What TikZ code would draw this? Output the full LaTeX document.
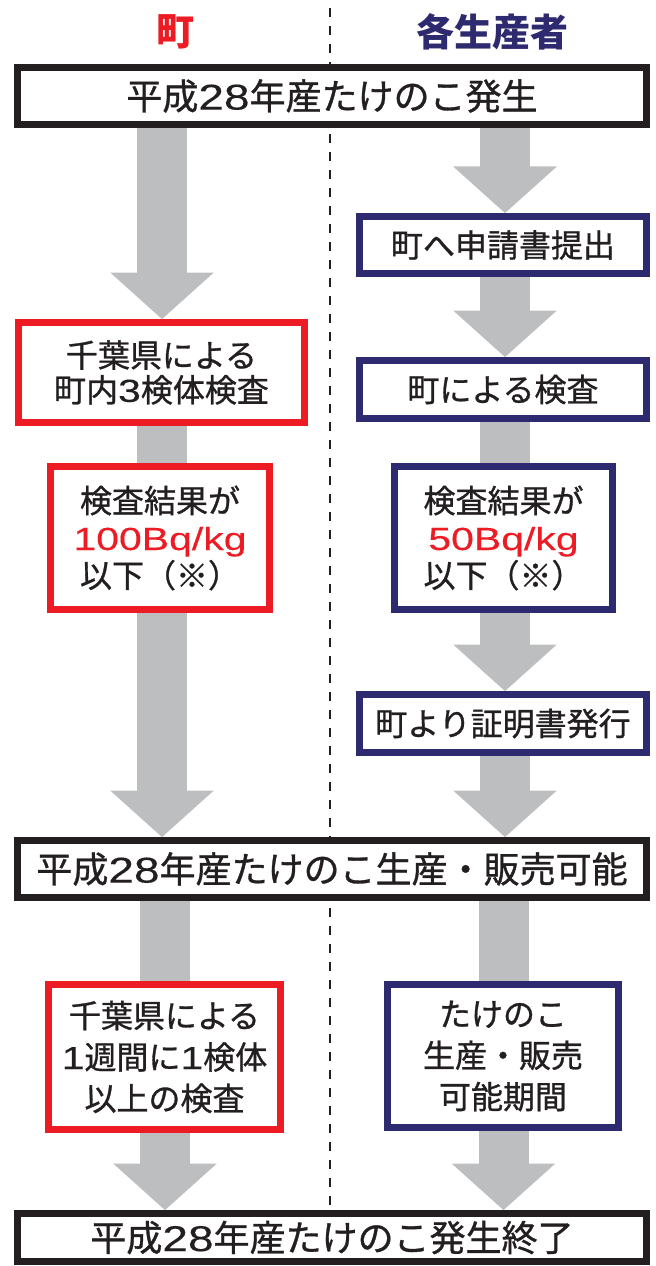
\documentclass[tikz,border=0pt]{standalone}
\usepackage{fontspec}
\setmainfont{Noto Sans CJK JP}[FakeBold=0.9, BoldFeatures={FakeBold=0}]
\newfontfamily\lat{Liberation Sans}[FakeStretch=1.28, FakeBold=0.15]
\usetikzlibrary{arrows.meta,backgrounds}
\definecolor{tred}{HTML}{ED1C24}
\definecolor{tnavy}{HTML}{2E2A6F}
\definecolor{tblack}{HTML}{231F20}
\definecolor{agray}{HTML}{BCBEC0}
\begin{document}
\begin{tikzpicture}[x=0.75pt,y=-0.75pt,
  hdr/.style={font=\bfseries\fontsize{28.5}{30}\selectfont, inner sep=0pt},
  box/.style={fill=white, line width=5pt, inner sep=0pt, align=center, text=tblack},
  bigbox/.style={box, draw=tblack, font=\fontsize{27}{30}\selectfont, minimum width=471.75pt},
  redbox/.style={box, draw=tred, font=\fontsize{24}{26}\selectfont},
  navybox/.style={box, draw=tnavy, font=\fontsize{24}{26}\selectfont},
  flow/.style={draw=agray, line width=37.5pt, -{Triangle[width=75.75pt,length=35pt]}},
  shaft/.style={draw=agray, line width=37.5pt},
  divider/.style={draw=tblack, line width=1.5pt, dash pattern=on 6.5pt off 7pt}]
\useasboundingbox (0,0) rectangle (656,1266);
% lanes
\coordinate (L1) at (162,0);
\coordinate (L2) at (165,0);
\coordinate (R1) at (505,0);
\coordinate (R2) at (503.5,0);
\coordinate (dTop) at (330,8);
\coordinate (dBot) at (330,1205);
% headers
\node[hdr, text=tred] (hL) at (175,32) {町};
\node[hdr, text=tnavy] (hR) at (492,32) {各生産者};
% wide boxes
\node[bigbox, minimum height=42.75pt] (top) at (332,96) {平成{\lat 28}年産たけのこ発生};
\node[bigbox, minimum height=42.75pt] (mid) at (332,869) {平成{\lat 28}年産たけのこ生産・販売可能};
\node[bigbox, minimum height=36pt] (bot) at (332,1237.5) {平成{\lat 28}年産たけのこ発生終了};
% left column
\node[redbox, minimum width=214.5pt, minimum height=75pt, font=\fontsize{24}{26}\selectfont] (lb1) at (161.5,372.5) {千葉県による\\町内{\lat 3}検体検査};
\node[redbox, minimum width=164.25pt, minimum height=107.25pt, font=\fontsize{24}{28}\selectfont] (lb2) at (160,538) {検査結果が\\{\lat\color{tred}100Bq/kg}\\以下（※）};
\node[redbox, minimum width=174pt, minimum height=108.75pt, font=\fontsize{24}{31}\selectfont] (lb3) at (164.5,1057) {千葉県による\\{\lat 1}週間に{\lat 1}検体\\以上の検査};
% right column
\node[navybox, minimum width=215.25pt, minimum height=42.75pt] (rb1) at (503,245) {町へ申請書提出};
\node[navybox, minimum width=215.25pt, minimum height=43.5pt] (rb2) at (503,389.5) {町による検査};
\node[navybox, minimum width=163.5pt, minimum height=107.25pt, font=\fontsize{24}{28}\selectfont] (rb3) at (503.5,538) {検査結果が\\{\lat\color{tred}50Bq/kg}\\以下（※）};
\node[navybox, minimum width=215.25pt, minimum height=43.5pt] (rb4) at (503,723.5) {町より証明書発行};
\node[navybox, minimum width=173.25pt, minimum height=107.25pt, font=\fontsize{24}{31}\selectfont] (rb5) at (503,1056) {たけのこ\\生産・販売\\可能期間};
% connectors behind boxes
\begin{scope}[on background layer]
\fill[white] (0,0) rectangle (656,1266);
\draw[divider] (dTop) -- (dBot);
\draw[flow] (top.south -| L1) -- (lb1.north -| L1);
\draw[shaft] (lb1.south -| L1) -- (lb2.north -| L1);
\draw[flow] (lb2.south -| L1) -- (mid.north -| L1);
\draw[shaft] (mid.south -| L2) -- (lb3.north -| L2);
\draw[flow] (lb3.south -| L2) -- (bot.north -| L2);
\draw[flow] (top.south -| R1) -- (rb1.north -| R1);
\draw[flow] (rb1.south -| R1) -- (rb2.north -| R1);
\draw[shaft] (rb2.south -| R1) -- (rb3.north -| R1);
\draw[flow] (rb3.south -| R1) -- (rb4.north -| R1);
\draw[flow] (rb4.south -| R1) -- (mid.north -| R1);
\draw[shaft] (mid.south -| R2) -- (rb5.north -| R2);
\draw[flow] (rb5.south -| R2) -- (bot.north -| R2);
\end{scope}
\end{tikzpicture}
\end{document}
